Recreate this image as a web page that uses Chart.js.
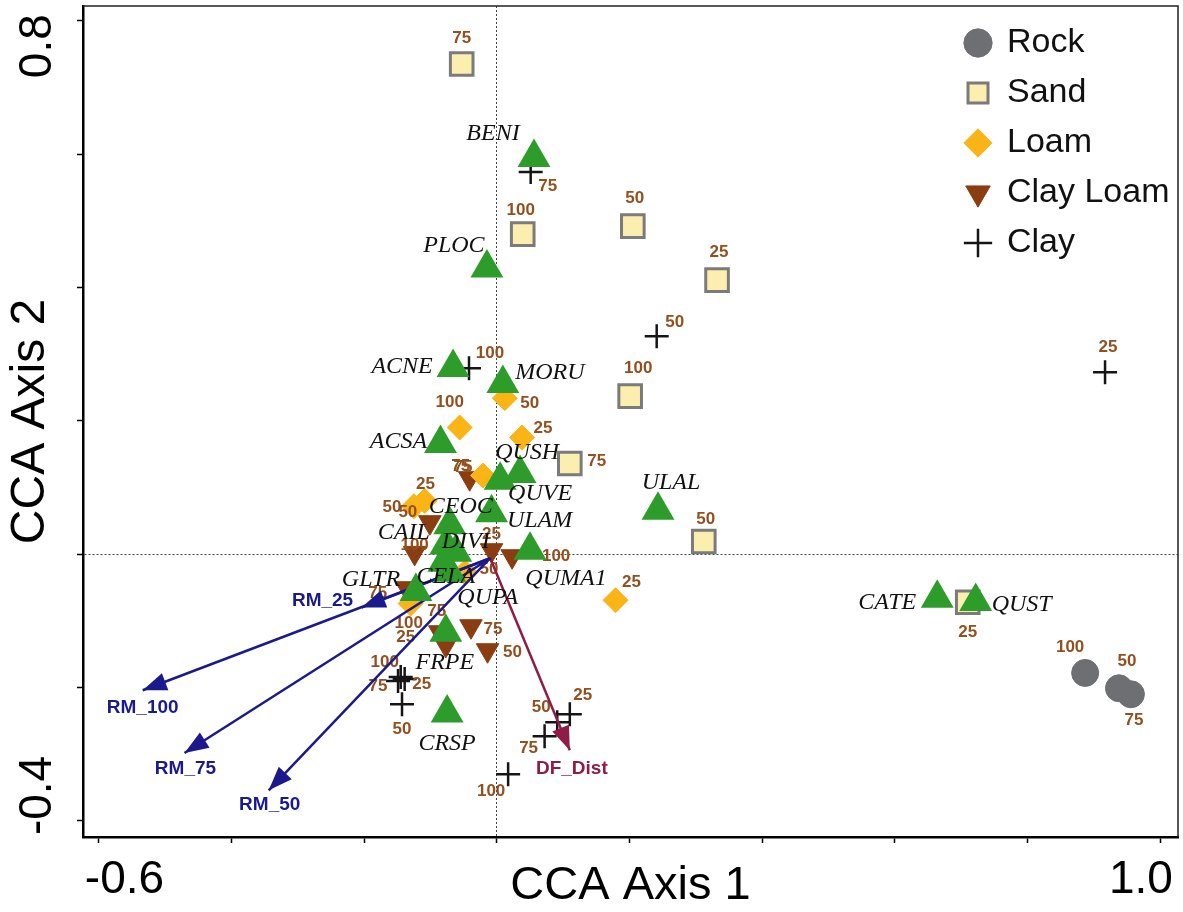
<!DOCTYPE html>
<html>
<head>
<meta charset="utf-8">
<script src="https://cdn.jsdelivr.net/npm/chart.js@4.4.0/dist/chart.umd.min.js"></script>
<style>
  html, body { margin: 0; padding: 0; background: #fff; }
  #wrap { width: 1183px; height: 912px; }
</style>
</head>
<body>
<div id="wrap"><canvas id="myChart"></canvas></div>
<script>
/* site scores (CCA axis 1, axis 2) by soil type, label = % */
const rockX = [0.887, 0.938, 0.956];
const rockY = [-0.178, -0.201, -0.210];
const rockLab = ['100', '50', '75'];

const sandX = [-0.053, 0.039, 0.205, 0.332, 0.201, 0.110, 0.312, 0.710];
const sandY = [0.735, 0.480, 0.492, 0.411, 0.237, 0.136, 0.019, -0.072];
const sandLab = ['75', '100', '50', '25', '100', '75', '50', '25'];

const loamX = [-0.056, 0.012, 0.038, -0.021, -0.125, -0.109, 0.179, -0.130, -0.048];
const loamY = [0.190, 0.234, 0.175, 0.118, 0.072, 0.080, -0.069, -0.074, -0.027];
const loamLab = ['100', '50', '25', '75', '50', '25', '25', '75', '50'];

const clayLoamX = [-0.041, -0.101, -0.124, -0.008, 0.023, -0.136, -0.039, -0.014, -0.077, -0.086];
const clayLoamY = [0.114, 0.048, 0.002, 0.006, -0.003, -0.051, -0.108, -0.144, -0.136, -0.117];
const clayLoamLab = ['75', '50', '100', '25', '100', '75', '75', '50', '100', '25'];

const clayX = [0.051, 0.241, 0.917, -0.042, -0.145, -0.149, -0.139, -0.143, 0.091, 0.110, 0.072, 0.017];
const clayY = [0.573, 0.327, 0.273, 0.279, -0.184, -0.190, -0.187, -0.225, -0.252, -0.240, -0.273, -0.330];
const clayLab = ['75', '50', '25', '100', '100', '75', '25', '50', '50', '25', '75', '100'];

/* species scores */
const species = ['BENI', 'PLOC', 'ACNE', 'MORU', 'ACSA', 'QUSH', 'QUVE', 'ULAM', 'ULAL', 'CEOC',
  'CAIL', 'DIVI', 'QUMA1', 'CELA', 'GLTR', 'QUPA', 'FRPE', 'CRSP', 'CATE', 'QUST'];
const speciesX = [0.056, -0.015, -0.066, 0.009, -0.085, 0.005, 0.035, -0.008, 0.243, -0.071,
  -0.077, -0.062, 0.050, -0.071, -0.122, -0.080, -0.077, -0.075, 0.664, 0.722];
const speciesY = [0.595, 0.429, 0.280, 0.256, 0.166, 0.111, 0.121, 0.062, 0.066, 0.044,
  0.014, 0.003, 0.006, -0.027, -0.056, -0.012, -0.117, -0.238, -0.066, -0.071];

/* biplot arrows (environmental variables) */
const envVars = ['RM_25', 'RM_100', 'RM_75', 'RM_50', 'DF_Dist'];
const envX = [-0.204, -0.534, -0.471, -0.344, 0.110];
const envY = [-0.080, -0.204, -0.298, -0.354, -0.294];
const envOrigin = [-0.010, -0.006];

/* label offsets in px (placement only) */
const rockOff = [[-15, -26], [8, -27], [3, 26]];
const sandOff = [[0, -26], [-2, -24], [2, -28], [2, -28], [8, -28], [27, -2], [2, -22], [0, 30]];
const loamOff = [[-10, -25], [25, 5], [21, -9], [-20, -8], [-22, 1], [1, -17], [16, -18], [26, 8], [24, -3]];
const clayLoamOff = [[-9, -12], [-22, -10], [0, -8], [0, -16], [44, 0], [-29, 5], [22, 3], [25, 2], [-37, -22], [-34, 5]];
const clayOff = [[17, 14], [18, -14], [3, -25], [21, -15], [-16, -15], [-20, 5], [17, 5], [0, 25], [-16, -15], [13, -19], [-16, 12], [-17, 17]];
const speciesOff = [[-41, -24], [-33, -22], [-51, -1], [47, -11], [-42, -2], [27, -28], [20, 20], [48, 8], [13, -28], [11, -18],
  [-42, -12], [10, -11], [36, 28], [-4, 4], [-45, -12], [44, 35], [-1, 30], [0, 31], [-50, 4], [46, 3]];
const envOff = [[-39, -7], [0, 17], [1, 16], [1, 14], [2, 18]];

const SANS = "'Liberation Sans', Arial, sans-serif";
const SERIF = "'Liberation Serif', 'Times New Roman', serif";
const LAB_COLOR = '#93501f';
const RM_COLOR = '#1b1a8c';
const DF_COLOR = '#8e1c46';

const pts = (xs, ys) => xs.map((x, i) => ({x: x, y: ys[i]}));

const sampleLabels = [
  [rockLab, rockOff], [sandLab, sandOff], [loamLab, loamOff], [clayLoamLab, clayLoamOff], [clayLab, clayOff]
];

const datasets = [
  {label: 'Rock', data: pts(rockX, rockY), pointStyle: 'circle', pointRadius: 13.5,
    backgroundColor: '#6e6f73', borderColor: '#6e6f73', pointBorderWidth: 1},
  {label: 'Sand', data: pts(sandX, sandY), pointStyle: 'rect', pointRadius: 16,
    backgroundColor: '#fbeeae', borderColor: '#7b7b7b', pointBorderWidth: 3},
  {label: 'Loam', data: pts(loamX, loamY), pointStyle: 'rectRot', pointRadius: 12.5,
    backgroundColor: '#fbb416', borderColor: '#fbb416', pointBorderWidth: 1},
  {label: 'Clay Loam', data: pts(clayLoamX, clayLoamY), pointStyle: 'triangle', pointRadius: 13,
    pointRotation: 180, backgroundColor: '#8b3d12', borderColor: '#8b3d12', pointBorderWidth: 1},
  {label: 'Clay', data: pts(clayX, clayY), pointStyle: 'cross', pointRadius: 12,
    backgroundColor: '#151515', borderColor: '#151515', pointBorderWidth: 2.5}
];

envVars.forEach((name, i) => {
  datasets.push({
    label: name, kind: 'arrow', order: -1,
    data: [{x: envOrigin[0], y: envOrigin[1]}, {x: envX[i], y: envY[i]}],
    showLine: true, pointRadius: 0, borderWidth: 2.5, fill: false,
    borderColor: name === 'DF_Dist' ? DF_COLOR : RM_COLOR,
    backgroundColor: name === 'DF_Dist' ? DF_COLOR : RM_COLOR
  });
});

datasets.push({
  label: 'Species', kind: 'species', order: -2,
  data: pts(speciesX, speciesY), pointStyle: 'triangle', pointRadius: 19,
  backgroundColor: '#2e9c2a', borderColor: '#2e9c2a', pointBorderWidth: 0
});

let samplesDone = false;

const annotate = {
  id: 'annotate',
  afterLayout(chart) {
    // legend sits in the upper right corner of the plot
    chart.legend.left = 950;
    chart.legend.top = 10;
  },
  beforeDraw() { samplesDone = false; },
  beforeDatasetDraw(chart, args) {
    const ds = chart.data.datasets[args.index];
    if (samplesDone || ds.kind !== 'arrow') return;
    samplesDone = true;
    const c = chart.ctx;
    c.save();
    c.font = 'bold 17px ' + SANS;
    c.fillStyle = LAB_COLOR;
    c.textAlign = 'center';
    c.textBaseline = 'middle';
    sampleLabels.forEach(([labs, offs], di) => {
      const meta = chart.getDatasetMeta(di);
      meta.data.forEach((p, j) => c.fillText(labs[j], p.x + offs[j][0], p.y + offs[j][1]));
    });
    c.restore();
  },
  afterDatasetDraw(chart, args) {
    const ds = chart.data.datasets[args.index];
    if (ds.kind !== 'arrow') return;
    const p0 = args.meta.data[0], p1 = args.meta.data[1];
    const a = Math.atan2(p1.y - p0.y, p1.x - p0.x);
    const L = 24, W = 9;
    const bx = p1.x - L * Math.cos(a), by = p1.y - L * Math.sin(a);
    const c = chart.ctx;
    c.save();
    c.fillStyle = ds.borderColor;
    c.beginPath();
    c.moveTo(p1.x, p1.y);
    c.lineTo(bx - W * Math.sin(a), by + W * Math.cos(a));
    c.lineTo(bx + W * Math.sin(a), by - W * Math.cos(a));
    c.closePath();
    c.fill();
    c.restore();
  },
  afterDatasetsDraw(chart) {
    const c = chart.ctx;
    const area = chart.chartArea;
    c.save();
    c.textAlign = 'center';
    c.textBaseline = 'middle';
    // species names
    const sMeta = chart.getDatasetMeta(datasets.length - 1);
    c.font = 'italic 24px ' + SERIF;
    c.fillStyle = '#111';
    sMeta.data.forEach((p, j) => c.fillText(species[j], p.x + speciesOff[j][0], p.y + speciesOff[j][1]));
    // arrow names
    c.font = 'bold 19px ' + SANS;
    envVars.forEach((name, i) => {
      const p = chart.getDatasetMeta(5 + i).data[1];
      c.fillStyle = name === 'DF_Dist' ? DF_COLOR : RM_COLOR;
      c.fillText(name, p.x + envOff[i][0], p.y + envOff[i][1]);
    });
    // top and right frame
    c.strokeStyle = '#222';
    c.lineWidth = 1.5;
    c.beginPath();
    c.moveTo(area.left, area.top);
    c.lineTo(area.right, area.top);
    c.lineTo(area.right, area.bottom);
    c.stroke();
    c.restore();
  }
};

const zeroLine = (c) => (Math.abs(c.tick.value) < 1e-9 ? '#444' : 'rgba(0,0,0,0)');
const near = (v, t) => Math.abs(v - t) < 1e-6;

const ctx = document.getElementById('myChart').getContext('2d');
const myChart = new Chart(ctx, {
  type: 'scatter',
  data: {datasets: datasets},
  options: {
    responsive: true,
    maintainAspectRatio: false,
    animation: false,
    layout: {autoPadding: false, padding: {top: 6, right: 5, left: 0, bottom: 0}},
    plugins: {
      tooltip: {enabled: false},
      legend: {
        position: 'chartArea',
        align: 'start',
        labels: {
          usePointStyle: true,
          boxWidth: 24,
          boxHeight: 20,
          padding: 16,
          color: '#111',
          font: {family: SANS, size: 34},
          filter: (item) => item.datasetIndex < 5
        }
      }
    },
    scales: {
      x: {
        type: 'linear',
        min: -0.624,
        max: 1.027,
        afterFit: (s) => { s.height = 75; s.paddingLeft = 0; s.paddingRight = 0; },
        border: {display: true, color: '#000', width: 2.5, dash: [2, 2]},
        grid: {color: zeroLine, lineWidth: 1, tickColor: '#000', tickLength: 6, tickWidth: 1.5},
        ticks: {
          stepSize: 0.2, includeBounds: false, autoSkip: false, maxRotation: 0, minRotation: 0,
          padding: 10, color: '#000',
          font: {family: SANS, size: 46},
          callback: (v) => (near(v, -0.6) ? '    -0.6' : (near(v, 1) ? '1.0   ' : ''))
        },
        title: {
          display: true, text: 'CCA Axis 1', color: '#000',
          font: {family: SANS, size: 47, lineHeight: 1},
          padding: {top: 0, bottom: 2}
        }
      },
      y: {
        type: 'linear',
        min: -0.424,
        max: 0.822,
        afterFit: (s) => { s.width = 83; s.paddingTop = 0; s.paddingBottom = 0; },
        border: {display: true, color: '#000', width: 2.5, dash: [2, 2]},
        grid: {color: zeroLine, lineWidth: 1, tickColor: '#000', tickLength: 6, tickWidth: 1.5},
        ticks: {
          stepSize: 0.2, includeBounds: false, autoSkip: false, minRotation: 90, maxRotation: 90,
          crossAlign: 'center', padding: -27, color: '#000',
          font: {family: SANS, size: 46},
          callback: (v) => (near(v, 0.8) ? '0.8    ' : (near(v, -0.4) ? '    -0.4' : ''))
        },
        title: {
          display: true, text: 'CCA Axis 2', color: '#000',
          font: {family: SANS, size: 48, lineHeight: 1},
          padding: {top: 7, bottom: 0}
        }
      }
    }
  },
  plugins: [annotate]
});
</script>
</body>
</html>
